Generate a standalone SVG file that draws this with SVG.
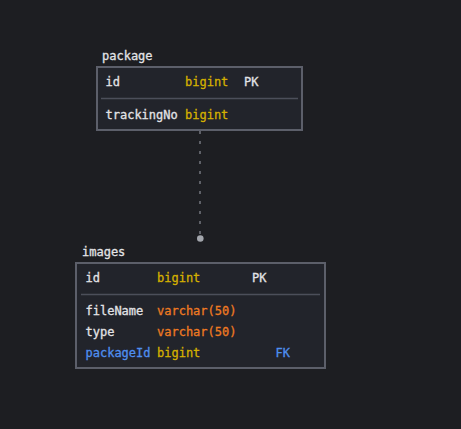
<svg xmlns="http://www.w3.org/2000/svg" width="461" height="429" viewBox="0 0 461 429">
<style>
text{font-family:"DejaVu Sans Mono","Liberation Mono",monospace;font-size:12px;stroke-width:0.3}
.n{fill:#e2e3e6;stroke:#e2e3e6}
.t{fill:#d4b000;stroke:#d4b000}
.v{fill:#ee7a22;stroke:#ee7a22}
.fk{fill:#4f8ff0;stroke:#4f8ff0}
.k{fill:#e2e3e6;stroke:#e2e3e6}
.box{fill:#22242b;stroke:#5c5f6a;stroke-width:2}
.div{stroke:#4c4f5a;stroke-width:1.5}
</style>
<rect width="461" height="429" fill="#1d1e22"/>
<g id="connectors">
<line x1="200" y1="131" x2="200" y2="236" stroke="#8a8d96" stroke-width="1.2" stroke-dasharray="3 7"/>
<circle cx="200.3" cy="238.5" r="3.3" fill="#a3a6ad"/>
</g>
<g id="package">
<text x="102" y="60" class="n">package</text>
<rect x="97" y="67" width="205" height="63" class="box"/>
<line x1="101" y1="98.5" x2="298" y2="98.5" class="div"/>
<text x="105.5" y="86" class="n">id</text>
<text x="185" y="86" class="t">bigint</text>
<text x="244" y="86" class="k">PK</text>
<text x="105.5" y="119" class="n">trackingNo</text>
<text x="185" y="119" class="t">bigint</text>
</g>
<g id="images">
<text x="82" y="256" class="n">images</text>
<rect x="76" y="263" width="249" height="105" class="box"/>
<line x1="81" y1="294.5" x2="320" y2="294.5" class="div"/>
<text x="85.5" y="282" class="n">id</text>
<text x="157" y="282" class="t">bigint</text>
<text x="252" y="282" class="k">PK</text>
<text x="85.5" y="315" class="n">fileName</text>
<text x="157" y="315" class="v">varchar(50)</text>
<text x="85.5" y="336" class="n">type</text>
<text x="157" y="336" class="v">varchar(50)</text>
<text x="85.5" y="357" class="fk">packageId</text>
<text x="157" y="357" class="t">bigint</text>
<text x="275.5" y="357" class="fk">FK</text>
</g>
</svg>
